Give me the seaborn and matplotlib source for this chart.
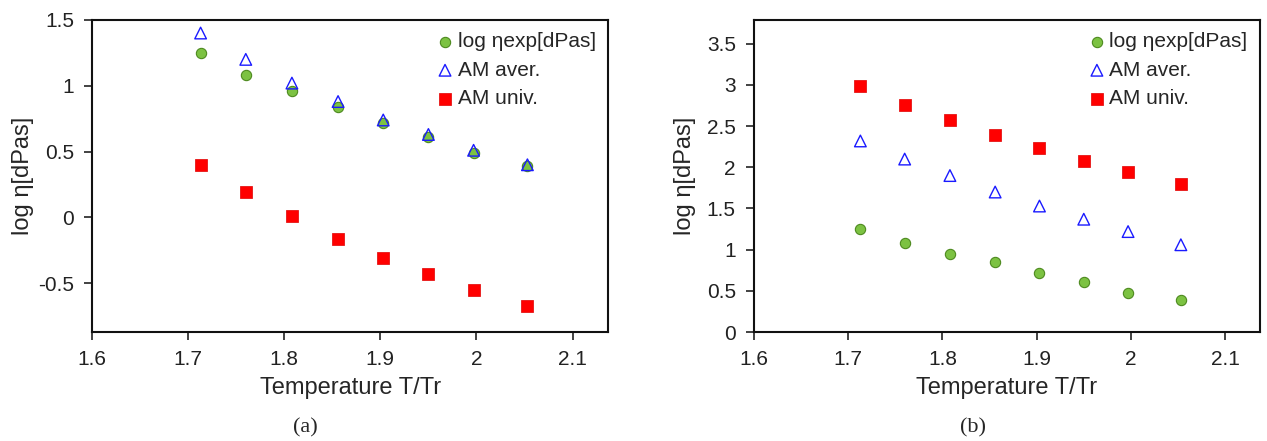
import numpy as np
import pandas as pd
import seaborn as sns
import matplotlib.pyplot as plt

# reduced temperature T/Tr
temp_ratio = [1.713, 1.760, 1.808, 1.856, 1.903, 1.950, 1.997, 2.053]

# panel (a)
a_exp = [1.25, 1.08, 0.96, 0.84, 0.72, 0.61, 0.49, 0.39]
a_aver = [1.40, 1.20, 1.02, 0.88, 0.74, 0.63, 0.51, 0.40]
a_univ = [0.40, 0.19, 0.01, -0.16, -0.31, -0.43, -0.55, -0.67]

# panel (b)
b_exp = [1.25, 1.08, 0.95, 0.85, 0.72, 0.61, 0.48, 0.39]
b_aver = [2.32, 2.10, 1.90, 1.70, 1.53, 1.37, 1.22, 1.06]
b_univ = [2.99, 2.76, 2.57, 2.39, 2.23, 2.08, 1.94, 1.80]

series_names = ['log ηexp[dPas]', 'AM aver.', 'AM univ.']

sns.set_style('ticks')
plt.rcParams['font.family'] = ['Liberation Sans', 'DejaVu Sans']

fig = plt.figure(figsize=(12.67, 4.41), dpi=100)
ax_a = fig.add_axes([0.0726, 0.247, 0.4074, 0.708])
ax_b = fig.add_axes([0.595, 0.247, 0.3995, 0.708])


def draw_panel(ax, exp_vals, aver_vals, univ_vals, ylim, yticks, ylabels, ypad):
    sns.scatterplot(x=temp_ratio, y=exp_vals, ax=ax, marker='o', s=55,
                    color='#7cc242', edgecolor='#4d8a1f', linewidth=0.8,
                    label=series_names[0])
    sns.scatterplot(x=temp_ratio, y=aver_vals, ax=ax, marker='^', s=70,
                    facecolor='none', edgecolor='#1a1aff', linewidth=1.0,
                    label=series_names[1])
    sns.scatterplot(x=temp_ratio, y=univ_vals, ax=ax, marker='s', s=65,
                    color='#ff0000', edgecolor='#e00000', linewidth=0.5,
                    label=series_names[2])
    ax.set_xlim(1.6, 2.137)
    ax.set_ylim(*ylim)
    ax.set_xticks([1.6, 1.7, 1.8, 1.9, 2.0, 2.1])
    ax.set_xticklabels(['1.6', '1.7', '1.8', '1.9', '2', '2.1'])
    ax.set_yticks(yticks)
    ax.set_yticklabels(ylabels)
    ax.tick_params(labelsize=15, direction='out', length=6, width=1.2,
                   pad=7, colors='#222222')
    for sp in ax.spines.values():
        sp.set_linewidth(1.5)
        sp.set_color('#111111')
    ax.set_xlabel('Temperature T/Tr', fontsize=17, labelpad=6)
    ax.set_ylabel('log η[dPas]', fontsize=17, labelpad=ypad)
    leg = ax.legend(loc='upper right', frameon=False, fontsize=15,
                    handletextpad=0.1, labelspacing=0.45, borderaxespad=0.2,
                    handlelength=1.0)
    return leg


draw_panel(ax_a, a_exp, a_aver, a_univ, (-0.87, 1.5),
           [-0.5, 0, 0.5, 1.0, 1.5], ['-0.5', '0', '0.5', '1', '1.5'], 3)
draw_panel(ax_b, b_exp, b_aver, b_univ, (0, 3.79),
           [0, 0.5, 1.0, 1.5, 2.0, 2.5, 3.0, 3.5],
           ['0', '0.5', '1', '1.5', '2', '2.5', '3', '3.5'], 8)

fig.text(0.241, 0.02, '(a)', fontsize=16, family='Liberation Serif', ha='center')
fig.text(0.768, 0.02, '(b)', fontsize=16, family='Liberation Serif', ha='center')

fig.savefig('out.png', dpi=100)
